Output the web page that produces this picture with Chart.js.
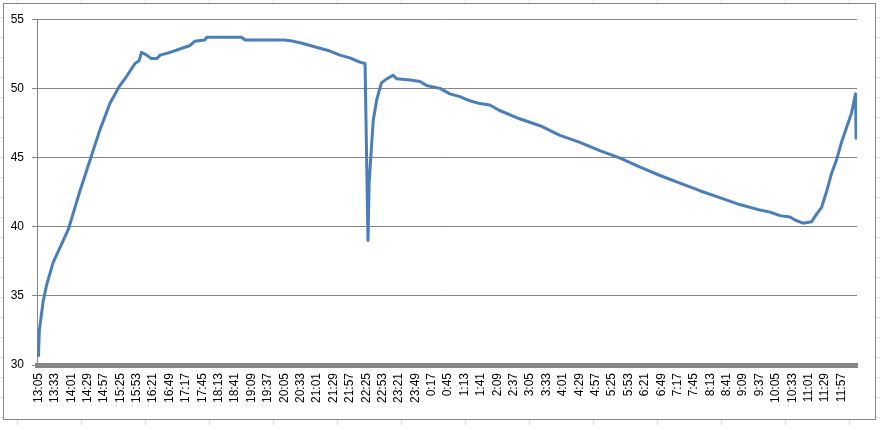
<!DOCTYPE html>
<html>
<head>
<meta charset="utf-8">
<script src="https://cdn.jsdelivr.net/npm/chart.js@4"></script>
<style>
  body {
    margin: 0;
    width: 880px;
    height: 425px;
    overflow: hidden;
    background-color: #fff;
    background-image: linear-gradient(to right, #dadcdd 1px, transparent 1px),
      linear-gradient(to bottom, #dadcdd 1px, transparent 1px);
    background-size: 64px 20px;
    background-position: 17px 17px;
  }
  #frame {
    position: absolute;
    left: 3px;
    top: 3px;
    width: 873px;
    height: 417px;
    box-sizing: border-box;
    border: 1px solid #868686;
    background: #fff;
  }
</style>
</head>
<body>
<div id="frame"><canvas id="chart" width="871" height="415"></canvas></div>
<script>
// minutes elapsed since 13:05, and temperature read at that time
const elapsedMin = [
  0, 1.5, 8, 14, 25, 37, 51, 71, 88, 105, 122, 139, 148, 165, 172, 176,
  185, 193, 202, 208, 225, 245, 259, 267, 284, 288, 347, 353, 421, 430,
  447, 464, 481, 498, 515, 532, 549, 558, 563, 565, 572, 578, 586, 592,
  600, 606, 612, 635, 652, 663, 686, 703, 720, 737, 754, 771, 788, 822,
  857, 891, 925, 959, 994, 1028, 1062, 1096, 1130, 1164, 1198, 1233,
  1250, 1267, 1284, 1292, 1306, 1321, 1326, 1338, 1347, 1355, 1364,
  1372, 1381, 1389, 1396, 1397
];
const temps = [
  30.6, 32.5, 34.6, 35.8, 37.4, 38.5, 39.8, 42.6, 44.8, 47.0, 48.9, 50.2,
  50.7, 51.8, 52.0, 52.6, 52.4, 52.15, 52.15, 52.4, 52.6, 52.9, 53.1, 53.4,
  53.5, 53.7, 53.7, 53.5, 53.5, 53.45, 53.3, 53.1, 52.9, 52.7, 52.4, 52.2,
  51.9, 51.8, 39.0, 43.2, 47.7, 49.2, 50.4, 50.6, 50.8, 50.95, 50.7, 50.6,
  50.5, 50.2, 50.0, 49.6, 49.4, 49.1, 48.9, 48.8, 48.4, 47.8, 47.3, 46.6,
  46.1, 45.5, 44.95, 44.3, 43.7, 43.15, 42.6, 42.1, 41.6, 41.2, 41.05,
  40.8, 40.7, 40.5, 40.25, 40.35, 40.7, 41.4, 42.6, 43.85, 44.9, 46.1,
  47.2, 48.2, 49.6, 46.3
];
// one label every 28 minutes
const tickLabels = [
  "13:05", "13:33", "14:01", "14:29", "14:57", "15:25", "15:53", "16:21",
  "16:49", "17:17", "17:45", "18:13", "18:41", "19:09", "19:37", "20:05",
  "20:33", "21:01", "21:29", "21:57", "22:25", "22:53", "23:21", "23:49",
  "0:17", "0:45", "1:13", "1:41", "2:09", "2:37", "3:05", "3:33", "4:01",
  "4:29", "4:57", "5:25", "5:53", "6:21", "6:49", "7:17", "7:45", "8:13",
  "8:41", "9:09", "9:37", "10:05", "10:33", "11:01", "11:29", "11:57"
];
const tickStep = 28;

Chart.defaults.font.family = "'Liberation Sans', Arial, sans-serif";
Chart.defaults.font.size = 12;
Chart.defaults.color = "#000";

new Chart(document.getElementById("chart"), {
  type: "line",
  data: {
    datasets: [{
      data: elapsedMin.map((m, i) => ({ x: m, y: temps[i] })),
      borderColor: "#4a7ebb",
      borderWidth: 3,
      pointRadius: 0,
      tension: 0,
      borderJoinStyle: "round",
    }],
  },
  options: {
    responsive: false,
    animation: false,
    layout: { padding: { top: 15, right: 18, left: 0, bottom: 0 } },
    plugins: { legend: { display: false }, tooltip: { enabled: false } },
    scales: {
      x: {
        type: "linear",
        min: -2.5,
        max: 1398.5,
        grid: { display: false, drawTicks: false },
        border: { color: "#868686", width: 5 },
        afterBuildTicks: (s) => {
          s.ticks = tickLabels.map((_, i) => ({ value: i * tickStep }));
        },
        afterFit: (s) => { s.height = 54; },
        ticks: {
          autoSkip: false,
          minRotation: 90,
          maxRotation: 90,
          padding: 8,
          callback: (v, i) => tickLabels[i],
        },
      },
      y: {
        min: 30,
        max: 55,
        ticks: { stepSize: 5, padding: 8 },
        grid: { color: "#868686", tickLength: 5 },
        border: { color: "#868686" },
        afterFit: (s) => { s.width = 33; },
      },
    },
  },
});
</script>
</body>
</html>
